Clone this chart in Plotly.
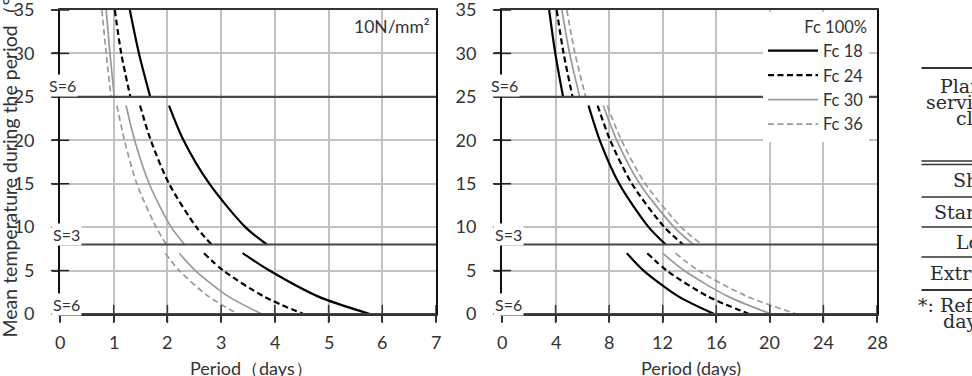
import plotly.graph_objects as go

# ---------------- data ----------------
temps_upper = [35, 30, 25]
temps_mid = [24, 20, 15, 10, 8]
temps_low = [7, 5, 2, 0]

series_names = ["Fc 18", "Fc 24", "Fc 30", "Fc 36"]

# Left chart: 10 N/mm2 (days)
left_fc18_upper = [1.30, 1.47, 1.68]
left_fc18_mid = [2.03, 2.30, 2.78, 3.45, 3.85]
left_fc18_low = [3.40, 3.90, 4.81, 5.77]

left_fc24_upper = [1.02, 1.14, 1.31]
left_fc24_mid = [1.49, 1.69, 2.03, 2.54, 2.82]
left_fc24_low = [2.68, 3.04, 3.80, 4.53]

left_fc30_upper = [0.86, 0.93, 1.01]
left_fc30_mid = [1.23, 1.39, 1.66, 2.07, 2.32]
left_fc30_low = [2.22, 2.52, 3.14, 3.76]

left_fc36_upper = [0.78, 0.86, 0.95]
left_fc36_mid = [1.06, 1.20, 1.43, 1.79, 1.98]
left_fc36_low = [1.96, 2.22, 2.77, 3.32]

# Right chart: Fc 100% (days)
right_fc18_upper = [3.52, 3.98, 4.56]
right_fc18_mid = [6.46, 7.30, 8.75, 10.95, 12.22]
right_fc18_low = [9.32, 10.57, 13.2, 15.85]

right_fc24_upper = [4.08, 4.60, 5.27]
right_fc24_mid = [7.14, 8.08, 9.70, 12.12, 13.52]
right_fc24_low = [10.85, 12.3, 15.4, 18.45]

right_fc30_upper = [4.47, 5.05, 5.80]
right_fc30_mid = [7.56, 8.57, 10.28, 12.85, 14.28]
right_fc30_low = [12.0, 13.6, 16.9, 20.1]

right_fc36_upper = [4.84, 5.45, 6.25]
right_fc36_mid = [7.86, 8.92, 10.7, 13.38, 14.92]
right_fc36_low = [12.95, 14.67, 18.33, 22.0]

left_days = {
    "Fc 18": [left_fc18_upper, left_fc18_mid, left_fc18_low],
    "Fc 24": [left_fc24_upper, left_fc24_mid, left_fc24_low],
    "Fc 30": [left_fc30_upper, left_fc30_mid, left_fc30_low],
    "Fc 36": [left_fc36_upper, left_fc36_mid, left_fc36_low],
}
right_days = {
    "Fc 18": [right_fc18_upper, right_fc18_mid, right_fc18_low],
    "Fc 24": [right_fc24_upper, right_fc24_mid, right_fc24_low],
    "Fc 30": [right_fc30_upper, right_fc30_mid, right_fc30_low],
    "Fc 36": [right_fc36_upper, right_fc36_mid, right_fc36_low],
}
segment_temps = [temps_upper, temps_mid, temps_low]

thresholds = [25, 8, 0]
threshold_labels = ["S=6", "S=3", "S=6"]

left_xticks = [0, 1, 2, 3, 4, 5, 6, 7]
right_xticks = [0, 4, 8, 12, 16, 20, 24, 28]
yticks = [0, 5, 10, 15, 20, 25, 30, 35]

table_header = ["Planned", "service life", "class"]
table_rows = ["Short", "Standard", "Long", "Extra long"]
table_note = ["*: Reference", "days"]

# ---------------- styles ----------------
styles = {
    "Fc 18": dict(color="#000000", width=2.2, dash="solid"),
    "Fc 24": dict(color="#000000", width=2.2, dash="6px,3.5px"),
    "Fc 30": dict(color="#9a9a9a", width=1.7, dash="solid"),
    "Fc 36": dict(color="#9a9a9a", width=1.7, dash="6px,3.5px"),
}

W, H = 972, 376
FONT = "Lato, 'Open Sans', sans-serif"
TXT = "#333333"

fig = go.Figure()

for name in series_names:
    for days, temps in zip(left_days[name], segment_temps):
        fig.add_trace(go.Scatter(
            x=days, y=temps, mode="lines", line=dict(shape="spline", smoothing=0.8, **styles[name]),
            xaxis="x", yaxis="y", showlegend=False, hoverinfo="skip"))

for name in series_names:
    for i, (days, temps) in enumerate(zip(right_days[name], segment_temps)):
        fig.add_trace(go.Scatter(
            x=days, y=temps, mode="lines", name=name,
            line=dict(shape="spline", smoothing=0.8, **styles[name]),
            xaxis="x2", yaxis="y2", showlegend=(i == 0), hoverinfo="skip"))

# crossing tick marks on both axes
for xa, ya, xt in [("x", "y", left_xticks), ("x2", "y2", right_xticks)]:
    fig.add_trace(go.Scatter(
        x=xt, y=[0] * len(xt), mode="markers", xaxis=xa, yaxis=ya,
        marker=dict(symbol="line-ns-open", size=13, color="#333", line=dict(width=1.5, color="#333")),
        cliponaxis=False, showlegend=False, hoverinfo="skip"))
    fig.add_trace(go.Scatter(
        x=[0] * len(yticks), y=yticks, mode="markers", xaxis=xa, yaxis=ya,
        marker=dict(symbol="line-ew-open", size=13, color="#222", line=dict(width=1.5, color="#222")),
        cliponaxis=False, showlegend=False, hoverinfo="skip"))

shapes = []
annotations = []

# x tick labels placed on the axis scale
for xa, ya, xt in [("x", "y", left_xticks), ("x2", "y2", right_xticks)]:
    for t in xt:
        annotations.append(dict(xref=xa, yref=f"{ya} domain", x=t, y=0, text=str(t), showarrow=False,
                                xanchor="center", yanchor="middle", yshift=-28,
                                font=dict(family=FONT, size=18, color=TXT)))

# threshold lines and labels
for xa, ya in [("x", "y"), ("x2", "y2")]:
    for k, (t, lab) in enumerate(zip(thresholds, threshold_labels)):
        shapes.append(dict(type="line", xref=f"{xa} domain", yref=ya, x0=0, x1=1, y0=t, y1=t,
                           line=dict(color="#474747", width=2.2)))
        annotations.append(dict(xref=f"{xa} domain", yref=ya, x=0, y=t, text=lab, showarrow=False,
                                xanchor="center", yanchor="middle", xshift=(2 if k == 0 else 6),
                                yshift=(11 if k == 0 else 10),
                                bgcolor="white", borderpad=1,
                                font=dict(family=FONT, size=16, color=TXT)))

def px(xp):
    return xp / W

def py(yp):
    return 1 - yp / H

# axis titles and labels
annotations += [
    dict(xref="paper", yref="paper", x=px(9), y=py(340), text="Mean temperature during the period（°C）",
         textangle=-90, showarrow=False, xanchor="center", yanchor="bottom",
         font=dict(family=FONT, size=19.5, color=TXT)),
    dict(xref="paper", yref="paper", x=px(251), y=py(368), text="Period（days）", showarrow=False,
         xanchor="center", yanchor="middle", font=dict(family=FONT, size=18, color=TXT)),
    dict(xref="paper", yref="paper", x=px(691), y=py(368), text="Period (days)", showarrow=False,
         xanchor="center", yanchor="middle", font=dict(family=FONT, size=18, color=TXT)),
    dict(xref="paper", yref="paper", x=px(432), y=py(27), text="10N/mm²", showarrow=False,
         xanchor="right", yanchor="middle", font=dict(family=FONT, size=17.5, color=TXT)),
]

# cropped table on the right
SERIF = "'DejaVu Serif', 'Liberation Serif', serif"
table_lines = [(68, 2.0), (161, 1.3), (164.5, 1.3), (197, 1.4), (227, 1.4), (257, 1.4), (290, 2.0)]
for yp, w in table_lines:
    shapes.append(dict(type="line", xref="paper", yref="paper", x0=px(921.5), x1=1.05,
                       y0=py(yp), y1=py(yp), line=dict(color="#333", width=w)))
header_pos = [(939, 86), (925, 102), (955, 118)]
row_pos = [(952, 180), (933, 212), (955, 242), (929, 273)]
note_pos = [(917, 305), (942, 321)]
for txt, (xp, yp) in zip(table_header + table_rows + table_note, header_pos + row_pos + note_pos):
    annotations.append(dict(xref="paper", yref="paper", x=px(xp), y=py(yp), text=txt, showarrow=False,
                            xanchor="left", yanchor="middle", borderpad=0,
                            font=dict(family=SERIF, size=19, color="#2a2a2a")))

axis_common = dict(showgrid=True, gridcolor="#c2c2c2", gridwidth=1.5, zeroline=False,
                   showline=True, mirror=True, linewidth=2, automargin=False,
                   tickfont=dict(family=FONT, size=18, color=TXT))
x_ticks = dict(ticks="outside", ticklen=6, tickwidth=1.5, tickcolor="#333", showticklabels=False)
y_ticks = dict(ticks="outside", ticklen=6, tickwidth=1.5, tickcolor="#333",
               ticklabelstandoff=14, ticklabeloverflow="allow")

fig.update_layout(
    template="none",
    width=W, height=H, margin=dict(l=0, r=0, t=0, b=0, pad=0),
    paper_bgcolor="white", plot_bgcolor="white",
    font=dict(family=FONT, size=17, color=TXT),
    xaxis=dict(domain=[px(60), px(436)], range=[0, 7], tickvals=left_xticks, anchor="y",
               linecolor="#333", **x_ticks, **axis_common),
    yaxis=dict(domain=[py(314), py(10)], range=[0, 35], tickvals=yticks, anchor="x",
               linecolor="#111", **y_ticks, **axis_common),
    xaxis2=dict(domain=[px(502), px(877)], range=[0, 28], tickvals=right_xticks, anchor="y2",
                linecolor="#333", **x_ticks, **axis_common),
    yaxis2=dict(domain=[py(314), py(10)], range=[0, 35], tickvals=yticks, anchor="x2",
                linecolor="#111", **y_ticks, **axis_common),
    showlegend=True,
    legend=dict(x=px(763), xanchor="left", y=py(12), yanchor="top", bgcolor="white",
                borderwidth=0, font=dict(family=FONT, size=16.5, color=TXT),
                title=dict(text="Fc 100%", side="top right", font=dict(family=FONT, size=16.5, color=TXT)),
                itemwidth=50, tracegroupgap=0),
    shapes=shapes, annotations=annotations,
)

fig.write_html("out.html")
